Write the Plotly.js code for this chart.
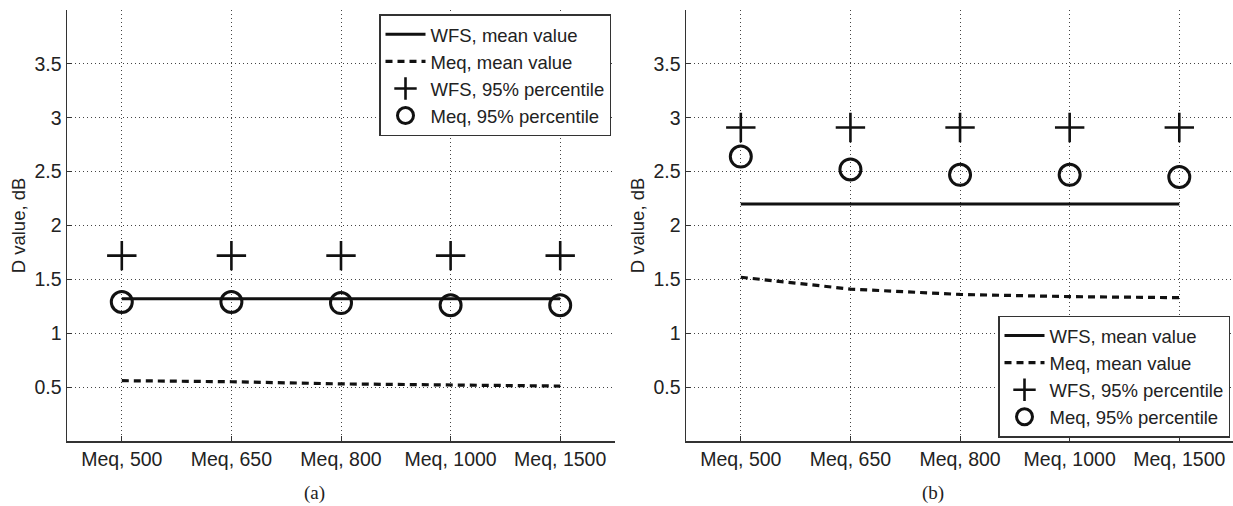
<!DOCTYPE html>
<html>
<head>
<meta charset="utf-8">
<script src="https://cdn.plot.ly/plotly-3.0.1.min.js"></script>
<style>html,body{margin:0;padding:0;background:#fff;}#chart{width:1233px;height:506px;}</style>
</head>
<body>
<div id="chart"></div>
<script>
const categories = ["Meq, 500", "Meq, 650", "Meq, 800", "Meq, 1000", "Meq, 1500"];
const yTickVals = [0.5, 1, 1.5, 2, 2.5, 3, 3.5];
const yTickText = ["0.5", "1", "1.5", "2", "2.5", "3", "3.5"];

// Panel (a)
const a_wfsMean = [1.32, 1.32, 1.32, 1.32, 1.32];
const a_meqMean = [0.56, 0.55, 0.53, 0.52, 0.51];
const a_wfs95 = [1.72, 1.72, 1.72, 1.72, 1.72];
const a_meq95 = [1.29, 1.29, 1.28, 1.26, 1.26];

// Panel (b)
const b_wfsMean = [2.2, 2.2, 2.2, 2.2, 2.2];
const b_meqMean = [1.52, 1.41, 1.36, 1.34, 1.33];
const b_wfs95 = [2.91, 2.91, 2.91, 2.91, 2.91];
const b_meq95 = [2.64, 2.52, 2.47, 2.47, 2.45];

const names = ["WFS, mean value", "Meq, mean value", "WFS, 95% percentile", "Meq, 95% percentile"];

function panel(xa, ya, leg, wm, mm, w95, m95) {
  return [
    {x: categories, y: wm, xaxis: xa, yaxis: ya, legend: leg, name: names[0], mode: "lines",
     line: {color: "#111", width: 3}},
    {x: categories, y: mm, xaxis: xa, yaxis: ya, legend: leg, name: names[1], mode: "lines",
     line: {color: "#111", width: 3.2, dash: "7px,5px"}},
    {x: categories, y: w95, xaxis: xa, yaxis: ya, legend: leg, name: names[2], mode: "markers",
     marker: {symbol: "cross-thin-open", size: 21, color: "#111", line: {color: "#111", width: 2.6}}},
    {x: categories, y: m95, xaxis: xa, yaxis: ya, legend: leg, name: names[3], mode: "markers",
     marker: {symbol: "circle-open", size: 21, color: "#111", line: {color: "#111", width: 3}}}
  ];
}

const data = [].concat(
  panel("x", "y", "legend", a_wfsMean, a_meqMean, a_wfs95, a_meq95),
  panel("x2", "y2", "legend2", b_wfsMean, b_meqMean, b_wfs95, b_meq95)
);

const font = {family: "Liberation Sans, Arial, Helvetica, sans-serif", size: 19.5, color: "#222"};
const legendFont = {family: "Liberation Sans, Arial, Helvetica, sans-serif", size: 18.5, color: "#222"};

function xAxis(domain, range) {
  return {
    domain: domain, type: "category", range: range,
    showline: true, linecolor: "#333", linewidth: 1.5, mirror: false,
    ticks: "inside", ticklen: 5, tickcolor: "#333",
    showgrid: true, gridcolor: "#444", griddash: "1px,3px", gridwidth: 1,
    zeroline: false, tickfont: font, fixedrange: true
  };
}
function yAxis(anchor, title) {
  return {
    anchor: anchor, range: [0, 4], tickvals: yTickVals, ticktext: yTickText,
    showline: true, linecolor: "#333", linewidth: 1.5, mirror: false,
    ticks: "inside", ticklen: 5, tickcolor: "#333",
    showgrid: true, gridcolor: "#444", griddash: "1px,3px", gridwidth: 1,
    zeroline: false, tickfont: font, fixedrange: true,
    title: {text: title, font: Object.assign({}, font, {size: 18.5}), standoff: 4}
  };
}

const legendBase = {
  font: legendFont, bgcolor: "#fff", bordercolor: "#333", borderwidth: 1.5,
  tracegroupgap: 0, itemwidth: 40
};

const layout = {
  width: 1233, height: 506,
  margin: {l: 0, r: 0, t: 10, b: 65},
  paper_bgcolor: "#fff", plot_bgcolor: "#fff",
  font: font,
  xaxis: xAxis([67 / 1233, 615 / 1233], [-0.5, 4.5]),
  yaxis: yAxis("x", "D value, dB"),
  xaxis2: xAxis([686 / 1233, 1], [-0.5, 4.49]),
  yaxis2: yAxis("x2", "D value, dB"),
  legend: Object.assign({}, legendBase, {x: 611 / 1233, xanchor: "right", y: 0.99, yanchor: "top"}),
  legend2: Object.assign({}, legendBase, {x: 1230 / 1233, xanchor: "right", y: 0.008, yanchor: "bottom"}),
  annotations: [
    {text: "(a)", xref: "paper", yref: "paper", x: 314 / 1233, y: (441 - 493) / 431, xanchor: "center", yanchor: "middle",
     showarrow: false, font: {family: "Liberation Serif, Times New Roman, serif", size: 19, color: "#222"}},
    {text: "(b)", xref: "paper", yref: "paper", x: 933 / 1233, y: (441 - 493) / 431, xanchor: "center", yanchor: "middle",
     showarrow: false, font: {family: "Liberation Serif, Times New Roman, serif", size: 19, color: "#222"}}
  ],
  showlegend: true
};

Plotly.newPlot("chart", data, layout, {displayModeBar: false, staticPlot: true});
</script>
</body>
</html>
